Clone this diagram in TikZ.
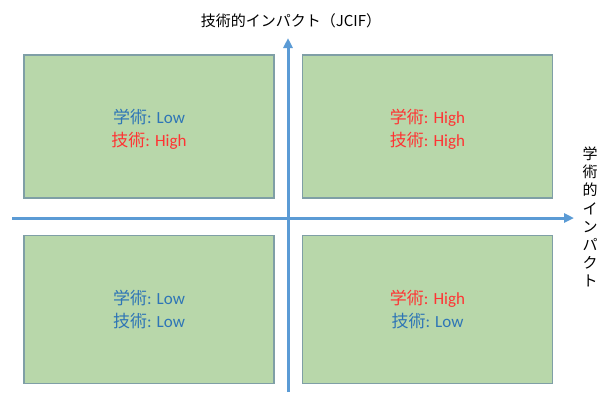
\documentclass[tikz,border=0pt]{standalone}
\usepackage{fontspec}
\setmainfont{Carlito}
\newfontfamily\cjk{Noto Sans CJK JP}
\usetikzlibrary{arrows.meta}
\definecolor{boxfill}{HTML}{B8D7AA}
\definecolor{boxline}{HTML}{7F9FA6}
\definecolor{axisblue}{HTML}{5B9BD5}
\definecolor{txtblue}{HTML}{2E75B6}
\definecolor{txtred}{HTML}{FF3333}
\begin{document}
\begin{tikzpicture}[x=1pt,y=-1pt,
  quad/.style={draw=boxline,line width=1.2pt,fill=boxfill,minimum width=250pt,minimum height=144pt,inner sep=0pt},
  qtext/.style={align=center,font=\fontsize{17}{23}\selectfont,inner sep=0pt,yshift=-3pt},
  axis/.style={draw=axisblue,line width=3pt,-{Triangle[length=10pt,width=9pt]}},
  lbl/.style={font=\fontsize{15}{18}\selectfont\cjk,align=center,inner sep=0pt}]
\useasboundingbox (0,0) rectangle (611,392);
\node[quad,minimum height=143pt,label={[qtext]center:{\textcolor{txtblue}{{\cjk 学術}: Low}\\\textcolor{txtred}{{\cjk 技術}: High}}}] (tl) at (149,126.5) {};
\node[quad,minimum height=143pt,label={[qtext]center:{\textcolor{txtred}{{\cjk 学術}: High}\\\textcolor{txtred}{{\cjk 技術}: High}}}] (tr) at (427.5,126.5) {};
\node[quad,minimum height=148pt,label={[qtext,yshift=3pt]center:{\textcolor{txtblue}{{\cjk 学術}: Low}\\\textcolor{txtblue}{{\cjk 技術}: Low}}}] (bl) at (149,309.5) {};
\node[quad,minimum height=148pt,label={[qtext,yshift=3pt]center:{\textcolor{txtred}{{\cjk 学術}: High}\\\textcolor{txtblue}{{\cjk 技術}: Low}}}] (br) at (427.5,309.5) {};
\coordinate (hs) at (12,218);
\coordinate (he) at (574,218);
\coordinate (vs) at (288,392);
\coordinate (ve) at (288,38);
\draw[axis] (hs) -- (he);
\draw[axis] (vs) -- (ve);
\node[lbl] (ylab) at (291,21) {技術的インパクト（JCIF）};
\node[lbl,font=\fontsize{15}{18.1}\selectfont\cjk] (xlab) at (590,217) {学\\術\\的\\イ\\ン\\パ\\ク\\ト};
\end{tikzpicture}
\end{document}
